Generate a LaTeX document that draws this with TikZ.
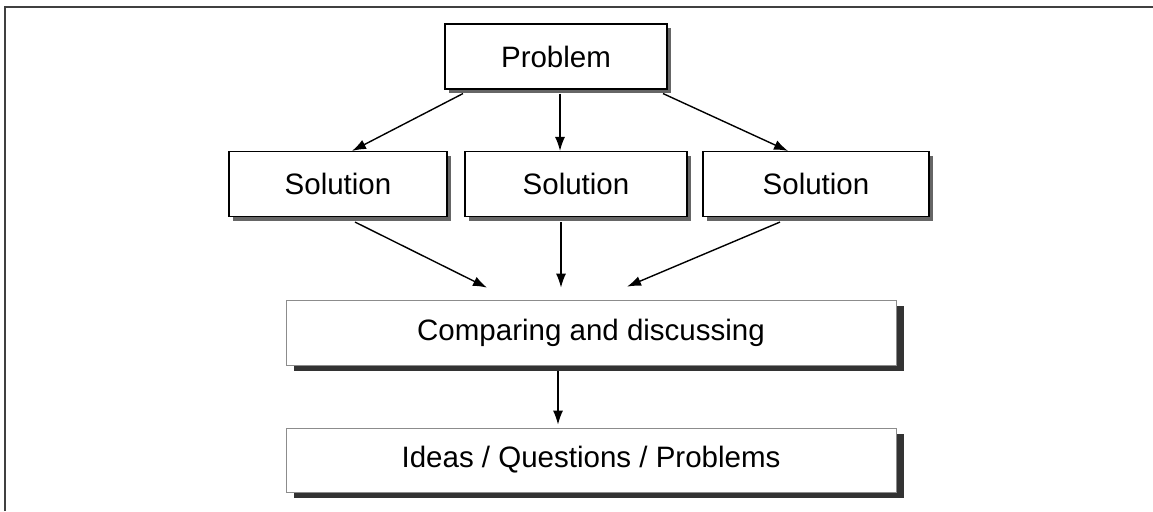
\documentclass[tikz,border=0pt]{standalone}
\usepackage{fontspec}
\setmainfont{Liberation Sans}
\usetikzlibrary{arrows.meta,shadows}

\begin{document}
\begin{tikzpicture}[x=1pt,y=-1pt,
  box/.style={draw=black, line width=1.1pt, fill=white, inner sep=0pt,
    minimum height=65pt, font=\fontsize{29.5}{33}\selectfont,
    drop shadow={shadow xshift=4pt, shadow yshift=-4pt, fill=black!60, opacity=1}},
  widebox/.style={draw=black!45, line width=0.7pt, fill=white, inner sep=0pt,
    minimum width=610pt, minimum height=65pt, font=\fontsize{29.5}{33}\selectfont,
    drop shadow={shadow xshift=8pt, shadow yshift=-6pt, fill=black!80, opacity=1}},
  flow/.style={line width=1.4pt, -{Latex[length=14pt,width=10pt]}}]
\useasboundingbox (0,0) rectangle (1153,511);
\draw[line width=1.2pt, black!75] (5,511) -- (5,7) -- (1153,7);

\node[box, minimum width=222pt] (prob) at (556,56.5) {Problem};
\node[box, minimum width=218pt] (solL) at (338,184) {Solution};
\node[box, minimum width=222pt] (solM) at (576,184) {Solution};
\node[box, minimum width=226pt] (solR) at (816,184) {Solution};
\node[widebox] (comp) at (591,332.5) {Comparing and discussing};
\node[widebox, minimum height=64pt] (ideas) at (591,460) {Ideas / Questions / Problems};

\draw[flow] ([xshift=-93pt,yshift=-4pt]prob.south) -- ([xshift=14pt]solL.north);
\draw[flow] ([xshift=4pt,yshift=-4pt]prob.south) -- ([xshift=-16pt]solM.north);
\draw[flow] ([xshift=107pt,yshift=-4pt]prob.south) -- ([xshift=-28pt]solR.north);

\draw[flow] ([xshift=17pt,yshift=-5pt]solL.south) -- ([xshift=-104pt,yshift=12pt]comp.north);
\draw[flow] ([xshift=-15pt,yshift=-5pt]solM.south) -- ([xshift=-30pt,yshift=12pt]comp.north);
\draw[flow] ([xshift=-36pt,yshift=-5pt]solR.south) -- ([xshift=36pt,yshift=13pt]comp.north);

\draw[flow] ([xshift=-33pt,yshift=-6pt]comp.south) -- ([xshift=-33pt,yshift=3pt]ideas.north);
\end{tikzpicture}
\end{document}
